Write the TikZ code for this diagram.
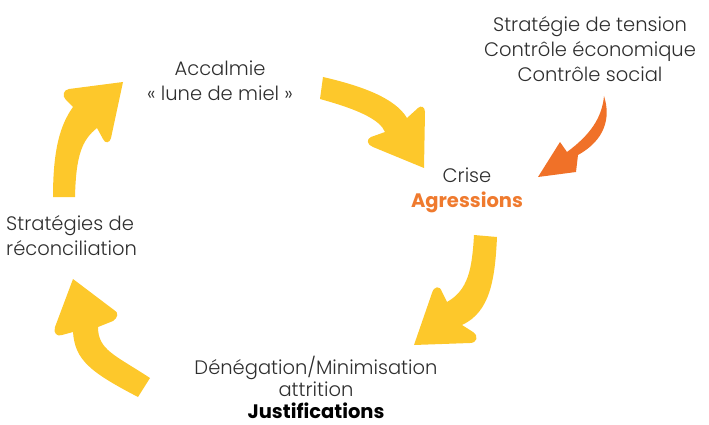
\documentclass[tikz,border=0pt]{standalone}
\usepackage{fontspec}
\setmainfont{Poppins}[UprightFont=* Light,BoldFont=* Bold]
\definecolor{cycleyellow}{HTML}{FDC82B}
\definecolor{pushorange}{HTML}{F07128}
\definecolor{labelorange}{HTML}{EF7A2E}
\definecolor{labelgrey}{HTML}{2E2E2E}
\begin{document}
\begin{tikzpicture}[x=1pt,y=-1pt,
  phase/.style={text=labelgrey,align=center,anchor=base,inner sep=0pt,
    font=\fontsize{19.5}{25}\selectfont},
  cyclearrow/.style={fill=cycleyellow,draw=none},
  pusharrow/.style={fill=pushorange,draw=none}]
\useasboundingbox (0,0) rectangle (709,425);

% phase labels (anchored at the baseline of their last line)
\node[phase] (calm) at (220,101) {Accalmie\\« lune de miel »};
\node[phase] (crisis) at (467,207) {Crise\\\textcolor{labelorange}{\bfseries Agressions}};
\node[phase,font=\fontsize{19.5}{22}\selectfont] (denial) at (316,418) {Dénégation/Minimisation\\attrition\\{\bfseries\color{black}Justifications}};
\node[phase,align=left,anchor=base west] (reconcile) at (6,255) {Stratégies de\\réconciliation};
\node[phase] (tension) at (590,82) {Stratégie de tension\\Contrôle économique\\Contrôle social};

% cycle arrows (block shapes)
\fill[cyclearrow] (323,77) .. controls (362,86) and (395,98) .. (407,118)
  -- (418,108) .. controls (421,105) and (425,107) .. (425,112)
  -- (424,168)
  -- (373,147) .. controls (367,145) and (366,139) .. (371,137)
  -- (385,132) .. controls (380,120) and (360,110) .. (320,99) -- cycle;

\fill[cyclearrow] (474,235) -- (497,237)
  .. controls (495,280) and (490,312) .. (462,325)
  -- (473,332) .. controls (479,336) and (477,343) .. (470,343)
  -- (414,345)
  -- (432,293) .. controls (434,286) and (440,285) .. (442,292)
  -- (447,302) .. controls (468,290) and (472,270) .. (474,235) -- cycle;

\fill[cyclearrow] (150,378) .. controls (115,355) and (98,350) .. (98,327)
  -- (113,321) .. controls (118,318) and (119,312) .. (114,310)
  -- (73,279)
  -- (55,327) .. controls (53,333) and (57,337) .. (62,335)
  -- (73,332) .. controls (75,360) and (90,372) .. (138,397) -- cycle;

\fill[cyclearrow] (53,197) .. controls (53,150) and (60,125) .. (73,107)
  -- (66,100) .. controls (62,96) and (63,90) .. (69,89)
  -- (123,82)
  -- (111,138) .. controls (110,143) and (105,144) .. (103,139)
  -- (97,128) .. controls (82,140) and (76,155) .. (75,197) -- cycle;

% external pressure arrow
\fill[pusharrow] (604,96) .. controls (611,118) and (605,140) .. (578,155)
  -- (576,172) -- (538,177) -- (560,142) -- (567,152)
  .. controls (590,135) and (602,118) .. (604,96) -- cycle;
\end{tikzpicture}
\end{document}
